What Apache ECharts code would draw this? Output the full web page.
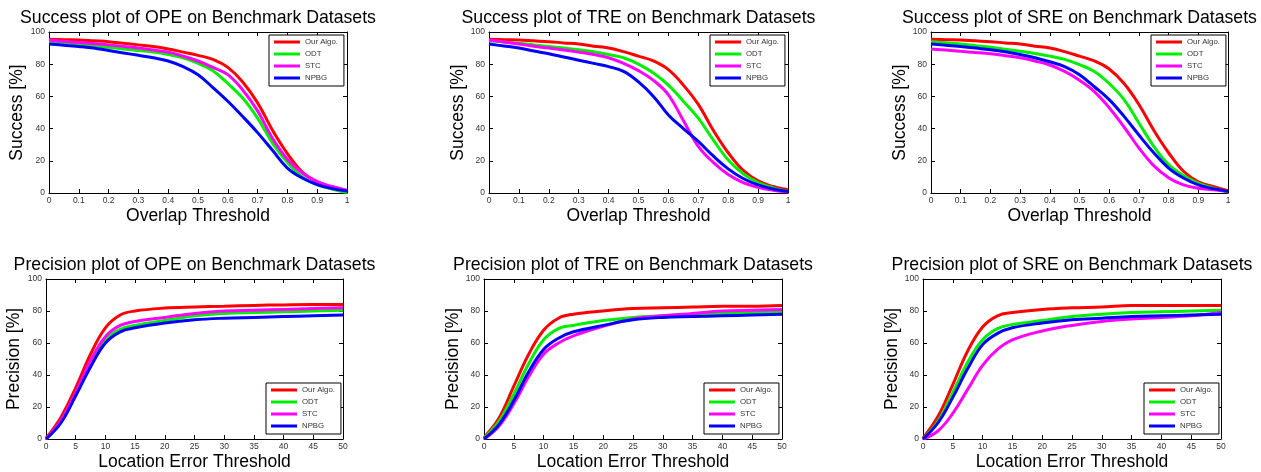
<!DOCTYPE html>
<html>
<head>
<meta charset="utf-8">
<script src="https://cdn.jsdelivr.net/npm/echarts@6/dist/echarts.min.js"></script>
<style>
html, body { margin: 0; padding: 0; background: #fff; }
#main { width: 1261px; height: 472px; }
</style>
</head>
<body>
<div id="main"></div>
<script>
const names = ['Our Algo.', 'ODT', 'STC', 'NPBG'];
const colors = ['#ff0000', '#00ee00', '#ff00ff', '#0000ff'];

// success plots: overlap threshold 0..1
const overlapX = [0, 0.05, 0.1, 0.15, 0.2, 0.25, 0.3, 0.35, 0.4, 0.45, 0.5, 0.55, 0.6, 0.65, 0.7, 0.75, 0.8, 0.85, 0.9, 0.95, 1];

const opeSuccessOur  = [95.5, 95.2, 95, 94.5, 94, 93, 92, 91, 89.5, 87.5, 85.5, 83, 78, 69, 56, 39, 24.5, 13, 7, 3.8, 1.5];
const opeSuccessOdt  = [94, 93.5, 92.5, 91.5, 90.5, 89.5, 88.5, 87.5, 86, 84, 80.5, 76, 68, 59, 46.5, 31, 19, 10, 5, 2.5, 0.3];
const opeSuccessStc  = [95, 94.2, 93.5, 92.8, 92, 91, 90, 88.8, 87.5, 85, 82, 78, 73.5, 64, 51, 34, 21, 12.4, 7, 4, 1.6];
const opeSuccessNpbg = [92.5, 91.8, 91, 90, 88.5, 87, 85.5, 84, 82, 78.5, 73.5, 65.5, 57, 47.5, 37.5, 26.5, 15.5, 9.3, 5.2, 2.7, 1.2];

const treSuccessOur  = [95.5, 95.2, 95, 94.5, 94, 93.2, 92.5, 91.2, 90, 87.8, 85, 82, 76.6, 67, 55, 39, 25, 14, 7.5, 4, 2];
const treSuccessOdt  = [94.5, 93.8, 93, 92, 91, 90, 89, 87.7, 86, 84, 80, 74.5, 67, 57, 46.5, 33, 20.5, 12, 6.5, 3.2, 1];
const treSuccessStc  = [95, 93.8, 92.5, 91.2, 90, 88.8, 87.5, 86, 84, 80.5, 76, 70, 61, 45, 29, 19, 11.5, 6.5, 3.5, 1.7, 0.6];
const treSuccessNpbg = [92.5, 91.3, 90, 88.2, 86.5, 84.5, 82.5, 80.5, 78.5, 75.5, 69, 60, 48.5, 40, 32, 23, 15, 9, 5, 2.5, 1];

const sreSuccessOur  = [95.5, 95.2, 95, 94.5, 94, 93.2, 92.5, 91.2, 90, 87.8, 85, 82, 77, 68, 55, 39, 25, 13.5, 7, 4, 1.5];
const sreSuccessOdt  = [94, 93.3, 92.5, 91.5, 90.5, 89.3, 88, 86.7, 85, 83, 79.7, 75.5, 68, 58, 43.5, 29, 17.6, 10.8, 6, 3, 0.6];
const sreSuccessStc  = [89.5, 88.8, 88, 87.3, 86.5, 85.3, 84, 82, 79.5, 75.5, 70, 63, 53, 41, 28, 17, 9.5, 5, 3, 2, 1];
const sreSuccessNpbg = [92.5, 91.8, 91, 90, 89, 87.7, 86, 84, 81.5, 78.5, 73.5, 66, 58, 47.6, 36, 25, 15.5, 9.3, 5, 2.7, 1];

// precision plots: location error threshold 0..50
const errorX = [0, 2.5, 5, 7.5, 10, 12.5, 15, 20, 25, 30, 35, 40, 45, 50];

const opePrecOur  = [0.5, 13.5, 32, 53, 69.5, 77.5, 80, 81.8, 82.5, 83, 83.5, 83.8, 84, 84];
const opePrecOdt  = [0, 11, 28, 47, 62, 68.5, 71, 74, 77, 78.5, 79, 79.5, 80, 80.5];
const opePrecStc  = [0, 11.5, 29, 49, 64, 71, 73.5, 76, 78.5, 80, 80.5, 81, 81.5, 82];
const opePrecNpbg = [0, 10, 27, 45, 60, 67, 69.5, 72.5, 74.5, 75.5, 76, 76.5, 77, 77.5];

const trePrecOur  = [1, 13, 33, 53, 68, 75.5, 78, 80, 81.5, 82, 82.5, 83, 83, 83.5];
const trePrecOdt  = [0.5, 11, 28, 47, 62, 69, 71, 74, 76, 77, 78, 78.5, 79, 79.5];
const trePrecStc  = [0, 8, 22, 39, 53, 60, 64.5, 70.5, 75, 77, 78.5, 80, 80.5, 81];
const trePrecNpbg = [0, 9, 24, 42, 56, 63, 67, 71, 74.5, 76, 76.5, 77, 77.5, 78];

const srePrecOur  = [0.5, 14, 34, 55, 70, 77, 79, 81, 82, 82.5, 83.5, 83.5, 83.5, 83.5];
const srePrecOdt  = [0, 11, 29, 48, 62, 69, 71.5, 74, 76.5, 78, 79, 79.5, 80, 80.5];
const srePrecStc  = [0, 5, 16, 31, 46, 56, 62, 67.5, 71, 73.5, 75, 76, 77, 79];
const srePrecNpbg = [0, 10, 26, 44, 59, 66, 69.5, 72.5, 74.5, 75.5, 76.5, 77, 77.5, 78];

const yTicks = [0, 20, 40, 60, 80, 100];

const font = 'Liberation Sans, Arial, Helvetica, sans-serif';

const panels = [
    { title: 'Success plot of OPE on Benchmark Datasets', xName: 'Overlap Threshold', yName: 'Success [%]',
      grid: { left: 49, top: 32, width: 298, height: 161 }, xs: overlapX, max: 1, step: 0.1, yGap: 23,
      legend: { left: 269, top: 35 }, data: [opeSuccessOur, opeSuccessOdt, opeSuccessStc, opeSuccessNpbg] },
    { title: 'Success plot of TRE on Benchmark Datasets', xName: 'Overlap Threshold', yName: 'Success [%]',
      grid: { left: 489, top: 32, width: 299, height: 161 }, xs: overlapX, max: 1, step: 0.1, yGap: 21,
      legend: { left: 710, top: 35 }, data: [treSuccessOur, treSuccessOdt, treSuccessStc, treSuccessNpbg] },
    { title: 'Success plot of SRE on Benchmark Datasets', xName: 'Overlap Threshold', yName: 'Success [%]',
      grid: { left: 931, top: 32, width: 297, height: 161 }, xs: overlapX, max: 1, step: 0.1, yGap: 22,
      legend: { left: 1151, top: 35 }, data: [sreSuccessOur, sreSuccessOdt, sreSuccessStc, sreSuccessNpbg] },
    { title: 'Precision plot of OPE on Benchmark Datasets', xName: 'Location Error Threshold', yName: 'Precision [%]',
      grid: { left: 46, top: 279, width: 297, height: 161 }, xs: errorX, max: 50, step: 5, yGap: 23,
      legend: { left: 266, top: 383 }, data: [opePrecOur, opePrecOdt, opePrecStc, opePrecNpbg] },
    { title: 'Precision plot of TRE on Benchmark Datasets', xName: 'Location Error Threshold', yName: 'Precision [%]',
      grid: { left: 484, top: 279, width: 298, height: 161 }, xs: errorX, max: 50, step: 5, yGap: 21,
      legend: { left: 704, top: 383 }, data: [trePrecOur, trePrecOdt, trePrecStc, trePrecNpbg] },
    { title: 'Precision plot of SRE on Benchmark Datasets', xName: 'Location Error Threshold', yName: 'Precision [%]',
      grid: { left: 923, top: 279, width: 298, height: 161 }, xs: errorX, max: 50, step: 5, yGap: 18,
      legend: { left: 1144, top: 383 }, data: [srePrecOur, srePrecOdt, srePrecStc, srePrecNpbg] }
];

const axisLine = { show: true, onZero: false, lineStyle: { color: '#000', width: 1 } };
const tick = { show: true, inside: true, length: 4, lineStyle: { color: '#000' } };

let chart = echarts.init(document.getElementById('main'), null, { renderer: 'canvas' });

let titles = [], grids = [], xAxes = [], yAxes = [], legends = [], series = [];

panels.forEach((p, i) => {
    grids.push(p.grid);
    titles.push({
        text: p.title,
        left: p.grid.left + p.grid.width / 2,
        top: p.grid.top - 23,
        textAlign: 'center',
        padding: 0,
        textStyle: { fontFamily: font, fontSize: 17.7, fontWeight: 'normal', color: '#000' }
    });
    let fmt = (v) => p.step < 1 ? String(+v.toFixed(1)) : String(v);
    xAxes.push({
        type: 'value', gridIndex: i, position: 'bottom', min: 0, max: p.max, interval: p.step,
        name: p.xName, nameLocation: 'middle', nameGap: 14,
        nameTextStyle: { fontFamily: font, fontSize: 17.5, color: '#000' },
        axisLine: axisLine, axisTick: tick, splitLine: { show: false },
        axisLabel: { margin: 3, fontFamily: font, fontSize: 8.5, color: '#333', formatter: fmt }
    });
    xAxes.push({
        type: 'value', gridIndex: i, position: 'top', min: 0, max: p.max, interval: p.step,
        axisLine: axisLine, axisTick: tick, splitLine: { show: false }, axisLabel: { show: false }
    });
    yAxes.push({
        type: 'value', gridIndex: i, position: 'left', min: 0, max: 100, interval: 20,
        name: p.yName, nameLocation: 'middle', nameGap: p.yGap,
        nameTextStyle: { fontFamily: font, fontSize: 17.5, color: '#000' },
        axisLine: axisLine, axisTick: tick, splitLine: { show: false },
        axisLabel: { margin: 4, fontFamily: font, fontSize: 8.5, color: '#333',
            formatter: (v) => yTicks.includes(v) ? String(v) : '' }
    });
    yAxes.push({
        type: 'value', gridIndex: i, position: 'right', min: 0, max: 100, interval: 20,
        axisLine: axisLine, axisTick: tick, splitLine: { show: false }, axisLabel: { show: false }
    });
    legends.push({
        left: p.legend.left, top: p.legend.top,
        orient: 'vertical',
        data: names,
        icon: 'rect',
        itemWidth: 26, itemHeight: 3, itemGap: 0,
        padding: [1, 6, 2, 5],
        backgroundColor: '#fff', borderColor: '#000', borderWidth: 1, borderRadius: 0,
        selectedMode: false,
        textStyle: { fontFamily: font, fontSize: 7.8, lineHeight: 12, color: '#333' }
    });
    p.data.forEach((ys, k) => {
        series.push({
            name: names[k],
            type: 'line',
            xAxisIndex: i * 2,
            yAxisIndex: i * 2,
            data: p.xs.map((x, j) => [x, ys[j]]),
            symbol: 'none',
            smooth: 0.4,
            color: colors[k],
            lineStyle: { width: 3, color: colors[k] },
            z: 2 + k
        });
    });
});

chart.setOption({
    backgroundColor: '#fff',
    animation: false,
    title: titles,
    grid: grids,
    xAxis: xAxes,
    yAxis: yAxes,
    legend: legends,
    series: series
});
</script>
</body>
</html>
